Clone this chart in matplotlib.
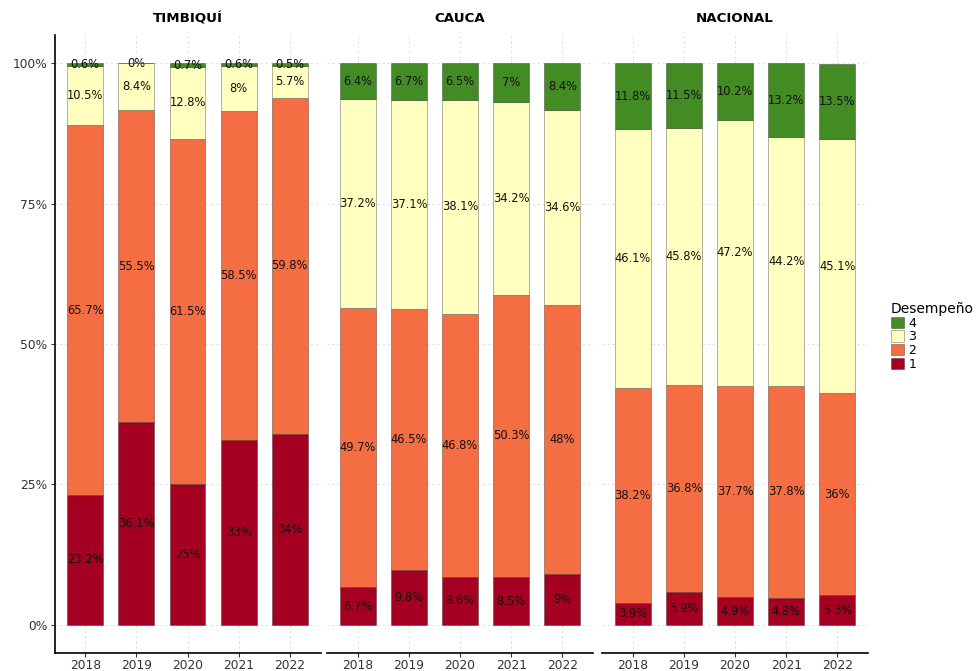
import matplotlib
matplotlib.use("Agg")
import matplotlib.pyplot as plt
from matplotlib.patches import Patch
import numpy as np

years = ["2018", "2019", "2020", "2021", "2022"]
regions = ["TIMBIQUÍ", "CAUCA", "NACIONAL"]
levels = ["1", "2", "3", "4"]

timbiqui_1 = [23.2, 36.1, 25, 33, 34]
timbiqui_2 = [65.7, 55.5, 61.5, 58.5, 59.8]
timbiqui_3 = [10.5, 8.4, 12.8, 8, 5.7]
timbiqui_4 = [0.6, 0, 0.7, 0.6, 0.5]

cauca_1 = [6.7, 9.8, 8.6, 8.5, 9]
cauca_2 = [49.7, 46.5, 46.8, 50.3, 48]
cauca_3 = [37.2, 37.1, 38.1, 34.2, 34.6]
cauca_4 = [6.4, 6.7, 6.5, 7, 8.4]

nacional_1 = [3.9, 5.9, 4.9, 4.8, 5.3]
nacional_2 = [38.2, 36.8, 37.7, 37.8, 36]
nacional_3 = [46.1, 45.8, 47.2, 44.2, 45.1]
nacional_4 = [11.8, 11.5, 10.2, 13.2, 13.5]

data = {
    "TIMBIQUÍ": [timbiqui_1, timbiqui_2, timbiqui_3, timbiqui_4],
    "CAUCA": [cauca_1, cauca_2, cauca_3, cauca_4],
    "NACIONAL": [nacional_1, nacional_2, nacional_3, nacional_4],
}

colors = ["#a50021", "#f46d43", "#ffffbf", "#438c24"]

W, H = 976, 671
fig = plt.figure(figsize=(W / 100, H / 100), dpi=100)
fig.patch.set_facecolor("white")

panels_px = [(54.5, 320.5), (327, 593), (602, 868)]
top_px, bot_px = 35, 653

for i, (reg, (l, r)) in enumerate(zip(regions, panels_px)):
    ax = fig.add_axes([l / W, (H - bot_px) / H, (r - l) / W, (bot_px - top_px) / H])
    x = np.arange(1, len(years) + 1)
    bottom = np.zeros(len(years))
    for lev, vals, c in zip(levels, data[reg], colors):
        vals = np.array(vals, dtype=float)
        ax.bar(x, vals, bottom=bottom, width=0.7, color=c,
               edgecolor=(0, 0, 0, 0.35), linewidth=0.6, zorder=3)
        for xi, b, v in zip(x, bottom, vals):
            ax.text(xi, b + v / 2, f"{v:g}%", ha="center", va="center",
                    fontsize=8.3, color="#111111", zorder=4)
        bottom += vals
    ax.set_xlim(0.4, 5.6)
    ax.set_ylim(-5, 105)
    ax.set_xticks(x)
    ax.set_xticklabels(years, fontsize=8.8, color="#333333")
    ax.set_yticks([0, 25, 50, 75, 100])
    ax.grid(True, color="#dddddd", linewidth=0.6, linestyle=(0, (3, 3)), zorder=0)
    for s in ["top", "right"]:
        ax.spines[s].set_visible(False)
    ax.spines["bottom"].set_linewidth(1.2)
    if i == 0:
        ax.set_yticklabels(["0%", "25%", "50%", "75%", "100%"], fontsize=8.8, color="#333333")
        ax.spines["left"].set_linewidth(1.2)
    else:
        ax.spines["left"].set_visible(False)
        ax.tick_params(axis="y", left=False, labelleft=False)
    ax.tick_params(axis="both", length=3, color="#333333", width=0.8)
    ax.tick_params(axis="x", pad=1.5)
    ax.tick_params(axis="y", pad=2)
    ax.set_title(reg, fontsize=9.6, fontweight="bold", pad=9)

handles = [Patch(facecolor=c, edgecolor=(0, 0, 0, 0.35), linewidth=0.6) for c in colors][::-1]
labels_leg = levels[::-1]
leg = fig.legend(handles, labels_leg, title="Desempeño", loc="upper left",
                 bbox_to_anchor=(891 / W, 1 - 302 / H), frameon=False,
                 fontsize=9, title_fontsize=10, handlelength=1.0, handleheight=1.0,
                 labelspacing=0.05, handletextpad=0.4, borderpad=0, borderaxespad=0)
leg._legend_box.align = "left"

fig.savefig("out.png", dpi=100)
